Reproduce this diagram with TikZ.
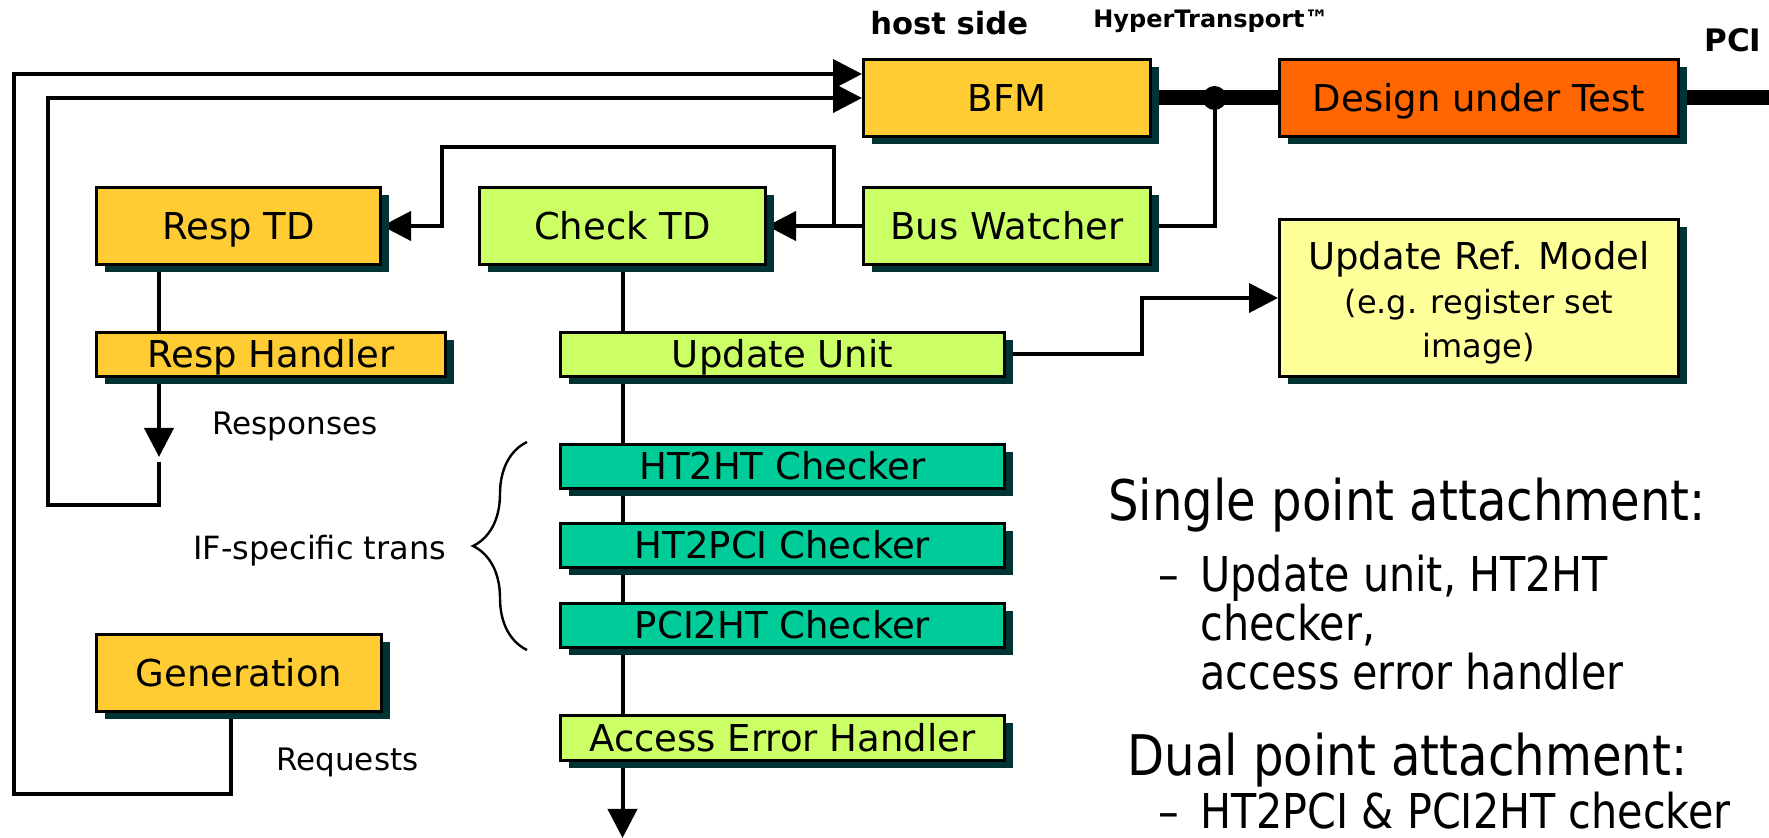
\documentclass[tikz,border=0pt]{standalone}
\usepackage{fontspec}
\setmainfont{DejaVu Sans}
\newfontfamily\narrowsans[FakeStretch=0.86]{DejaVu Sans}
\usetikzlibrary{arrows.meta,shadows,decorations.pathreplacing,calc}
\pgfdeclarelayer{background}
\pgfsetlayers{background,main}

\definecolor{goldbox}{HTML}{FFCC33}
\definecolor{dutorange}{HTML}{FF6600}
\definecolor{limebox}{HTML}{CCFF66}
\definecolor{chkteal}{HTML}{00CC99}
\definecolor{paleyellow}{HTML}{FFFF99}
\definecolor{shadowc}{HTML}{003333}

\tikzset{
  box/.style={draw=black, line width=1.5pt, inner sep=0pt,
    drop shadow={shadow xshift=4pt, shadow yshift=-4pt, fill=shadowc, opacity=1},
    font=\fontsize{18.5}{22}\selectfont, text height=13.5pt, text depth=0pt},
  bigbox/.style={box, minimum height=38.5pt},
  slimbox/.style={box, minimum height=22pt, minimum width=222pt},
  conn/.style={line width=2pt},
  tip/.style={-{Triangle[length=14.5pt,width=14.5pt]}},
  bus/.style={line width=7.5pt},
  lbl/.style={font=\fontsize{15.5}{18}\selectfont, inner sep=0pt, anchor=base west},
  hdr/.style={inner sep=0pt, anchor=base west},
  bigtxt/.style={font=\narrowsans\fontsize{28}{32}\selectfont, inner sep=0pt, anchor=base west},
  subtxt/.style={font=\narrowsans\fontsize{24}{28}\selectfont, inner sep=0pt, anchor=base west}
}

\begin{document}
\begin{tikzpicture}[x=0.5pt,y=-0.5pt]
\useasboundingbox (0,0) rectangle (1769,838);
\begin{pgfonlayer}{background}
  \fill[white] (0,0) rectangle (1769,838);
\end{pgfonlayer}

% header labels
\node[hdr, font=\bfseries\fontsize{15.3}{18}\selectfont] (hostside) at (870,35) {host side};
\node[hdr, font=\bfseries\fontsize{12}{14}\selectfont] (htlabel) at (1093,28) {HyperTransport™};
\node[hdr, font=\bfseries\fontsize{15.5}{18}\selectfont] (pcilabel) at (1704,52) {PCI};

% blocks
\node[bigbox, fill=goldbox, minimum width=143.5pt] (bfm) at (1007,98) {BFM};
\node[bigbox, fill=dutorange, minimum width=199.5pt] (dut) at (1479,98) {Design under Test};
\node[bigbox, fill=goldbox, minimum width=142pt] (resptd) at (238.5,226) {Resp TD};
\node[bigbox, fill=limebox, minimum width=143pt] (checktd) at (622.5,226) {Check TD};
\node[bigbox, fill=limebox, minimum width=143.5pt] (buswatch) at (1007,226) {Bus Watcher};
\node[box, fill=paleyellow, minimum width=199.5pt, minimum height=78.5pt,
      align=center, text height=, text depth=, font=\fontsize{16}{20}\selectfont]
      (refmodel) at (1479,298)
      {{\fontsize{18.5}{20}\selectfont\rule{0pt}{19pt}Update Ref. Model}\\[2pt](e.g. register set\\[2pt]image)};
\node[slimbox, fill=goldbox, minimum width=174.5pt] (resphand) at (271,354.5) {Resp Handler};
\node[slimbox, fill=limebox] (update) at (782.5,354.5) {Update Unit};
\node[slimbox, fill=chkteal] (ht2ht) at (782.5,466.5) {HT2HT Checker};
\node[slimbox, fill=chkteal] (ht2pci) at (782.5,545.5) {HT2PCI Checker};
\node[slimbox, fill=chkteal] (pci2ht) at (782.5,625.5) {PCI2HT Checker};
\node[bigbox, fill=goldbox, minimum width=142.5pt] (gen) at (239,673) {Generation};
\node[slimbox, fill=limebox, minimum height=22.5pt] (aeh) at (782.5,738) {Access Error Handler};

% free labels
\node[lbl] (responses) at (212,435) {Responses};
\node[lbl] (requests) at (276,771) {Requests};
\node[lbl, font=\fontsize{16}{18}\selectfont] (iftrans) at (193,560) {IF-specific trans};

% attachment notes
\node[bigtxt] (single) at (1108,521) {Single point attachment:};
\node[subtxt] (dash1) at (1158,592) {–};
\node[subtxt] (s1) at (1200,592) {Update unit, HT2HT};
\node[subtxt] (s2) at (1200,641) {checker,};
\node[subtxt] (s3) at (1200,690) {access error handler};
\node[bigtxt] (dual) at (1127,776) {Dual point attachment:};
\node[subtxt] (dash2) at (1158,829) {–};
\node[subtxt] (d1) at (1200,829) {HT2PCI \& PCI2HT checker};

% helper points
\coordinate (tap) at (1214.5,98);
\coordinate (busend) at (1769,98);
\coordinate (rx) at (159,0);
\coordinate (resptip) at (159,457);
\coordinate (retstart) at (159,462);
\coordinate (gx) at (231,0);
\coordinate (jn) at (834,226);
\coordinate (ux) at (1142,0);
\coordinate (bottom) at (0,838);

\begin{pgfonlayer}{background}
  % HyperTransport link and monitor tap
  \draw[bus] (bfm.east) -- (dut.west);
  \draw[bus] (dut.east) -- (busend);
  \fill (tap) circle[radius=6pt];
  \draw[conn] (tap) -- (tap |- buswatch.east) -- (buswatch.east);

  % monitored traffic to the transaction decoders
  \draw[conn, tip] (buswatch.west) -- (checktd.east);
  \draw[conn, tip] (jn) -- (834,147) -- (442,147) -- (442,226) -- (resptd.east);

  % checker chain
  \draw[conn, tip] (checktd.south) -- (checktd.south |- bottom);
  \draw[conn, tip] (update.east) -- (update.east -| ux) -- (refmodel.west -| ux) -- (refmodel.west);

  % response path
  \draw[conn] (resptd.south -| rx) -- (resphand.north -| rx);
  \draw[conn, tip] (resphand.south -| rx) -- (resptip);
  \draw[conn, tip] (retstart) -- (159,505) -- (48,505) -- (48,98) -- (bfm.west);

  % request path
  \draw[conn, tip] (gen.south -| gx) -- (231,794) -- (14,794) -- (14,74) -- ($(bfm.west)+(0,-24)$);
\end{pgfonlayer}

% grouping brace for the interface-specific checkers
\draw[line width=1.2pt, decorate, decoration={brace, amplitude=27pt}] (527,650) -- (527,442);

\end{tikzpicture}
\end{document}
